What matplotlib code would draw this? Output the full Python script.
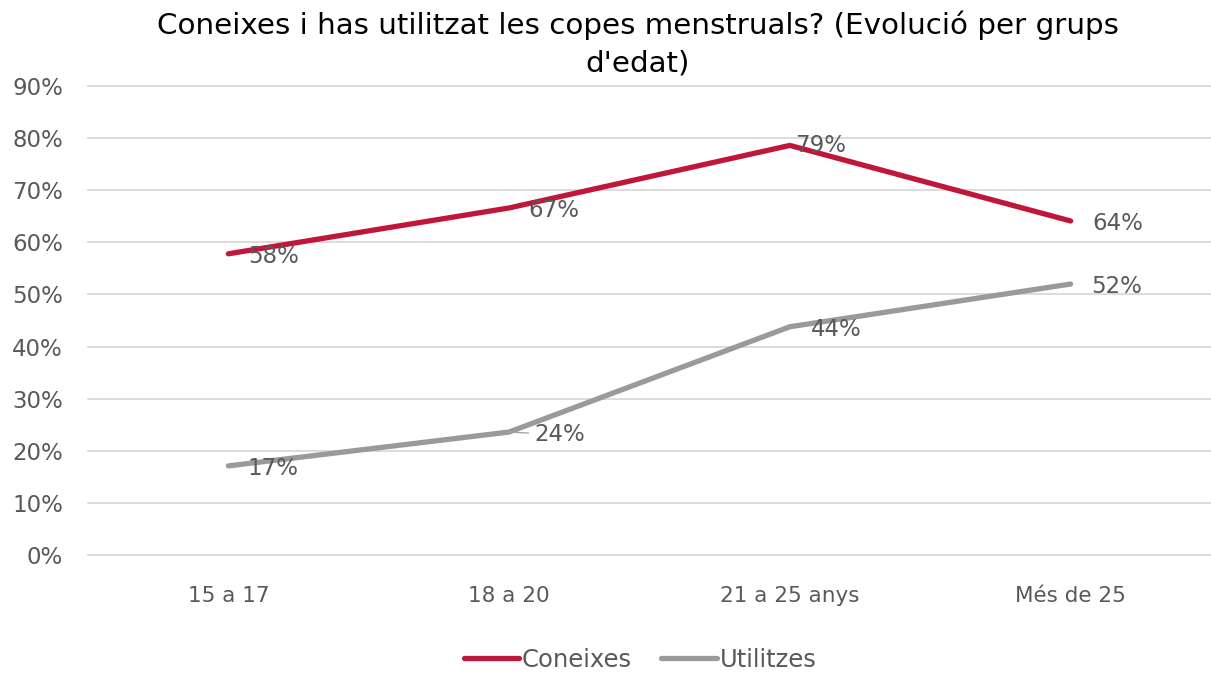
import matplotlib
matplotlib.use("Agg")
import matplotlib.pyplot as plt
from matplotlib.ticker import PercentFormatter

categories = ["15 a 17", "18 a 20", "21 a 25 anys", "Més de 25"]
coneixes = [0.578, 0.666, 0.786, 0.641]
utilitzes = [0.171, 0.236, 0.438, 0.520]
coneixes_labels = ["58%", "67%", "79%", "64%"]
utilitzes_labels = ["17%", "24%", "44%", "52%"]

RED = "#C0163A"
GRAY = "#9A9A9A"
TXT = "#595959"
plt.rcParams['font.family'] = ['DejaVu Sans']

fig = plt.figure(figsize=(12.11, 6.75), dpi=100)
ax = fig.add_axes([88/1211, 1-555/675, (1211-88)/1211, (555-86)/675])
x = list(range(len(categories)))
l1, = ax.plot(x, coneixes, color=RED, lw=3.8, solid_capstyle='round', label="Coneixes", zorder=3)
l2, = ax.plot(x, utilitzes, color=GRAY, lw=3.8, solid_capstyle='round', label="Utilitzes", zorder=3)

ax.set_xlim(-0.5, 3.5)
ax.set_ylim(0, 0.9)
ax.set_yticks([i/10 for i in range(10)])
ax.yaxis.set_major_formatter(PercentFormatter(1.0, decimals=0))
ax.set_xticks(x)
ax.set_xticklabels(categories)
ax.grid(axis='y', color="#D9D9D9", lw=1.3)
for gl in ax.get_ygridlines():
    gl.set_clip_on(False)
ax.set_axisbelow(True)
for s in ax.spines.values():
    s.set_visible(False)
ax.tick_params(length=0, colors=TXT)
ax.tick_params(axis='x', pad=22, labelsize=15.5)
ax.tick_params(axis='y', pad=18, labelsize=16.5)

c_off = [(14, -2), (14, -2), (4, 0), (16, -2)]
u_off = [(14, -2), (18, -2), (15, -2), (15, -2)]
for i in x:
    ax.annotate(coneixes_labels[i], (i, coneixes[i]), xytext=c_off[i], textcoords='offset points',
                ha='left', va='center', fontsize=16.5, color=TXT)
    kw = {}
    if i == 1:
        kw['arrowprops'] = dict(arrowstyle='-', color="#A6A6A6", lw=1, shrinkA=2, shrinkB=0)
    ax.annotate(utilitzes_labels[i], (i, utilitzes[i]), xytext=u_off[i], textcoords='offset points',
                ha='left', va='center', fontsize=16.5, color=TXT, **kw)

fig.text(638/1211, 1-10/675, "Coneixes i has utilitzat les copes menstruals? (Evolució per grups\nd'edat)",
         ha='center', va='top', fontsize=21.2, color="#000000", linespacing=1.45)

fig.legend(handles=[l1, l2], loc='center', bbox_to_anchor=(640/1211, 1-660/675), ncol=2,
           frameon=False, fontsize=17.5, labelcolor=TXT, handlelength=2.3, handletextpad=0.1,
           columnspacing=1.2)

fig.savefig("out.png", dpi=100)
